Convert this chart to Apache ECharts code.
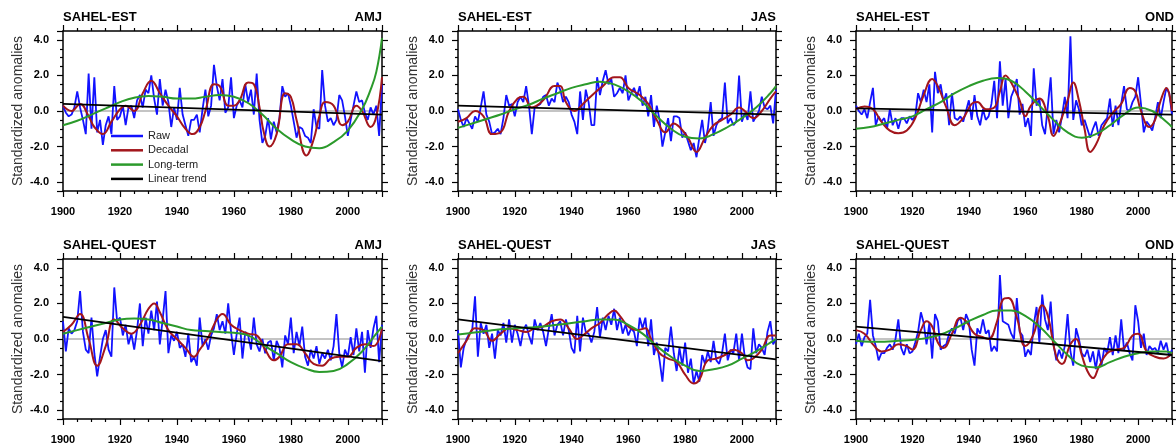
<!DOCTYPE html>
<html>
<head>
<meta charset="utf-8">
<script src="https://cdn.jsdelivr.net/npm/echarts@6/dist/echarts.min.js"></script>
<style>html,body{margin:0;padding:0;background:#fff;}#c{width:1176px;height:444px;}</style>
</head>
<body>
<div id="c"></div>
<script>
// ---------- DATA ----------
const firstYear = 1900, lastYear = 2012;
const seriesNames = ['Raw', 'Decadal', 'Long-term', 'Linear trend'];
const yTicks = [-4, -2, 0, 2, 4];
const zeroLine = [[1900, 0], [2012, 0]];

// SAHEL-EST AMJ
const rawEstAMJ = [
 0.3,-0.1,-0.3,-0.2,0.2,1.1,0.2,-0.5,-1.3,2.1,
 -1.0,1.9,-1.2,-0.5,-1.9,-0.8,-0.3,-1.3,1.4,-0.5,
 -0.3,0.3,-0.8,0.2,0.3,-0.4,0.6,0.9,0.2,1.2,
 1.0,2.0,0.7,-0.2,1.8,0.3,1.2,0.5,-0.9,0.2,
 -0.5,1.3,-0.2,-0.8,-1.4,-0.5,-0.5,-0.2,-1.2,0.1,
 1.2,-0.3,0.3,2.6,1.4,0.6,1.8,-0.1,0.2,1.9,
 -0.4,0.3,0.6,0.2,1.5,0.5,1.2,-0.2,2.1,-0.5,
 -1.8,-1.4,-0.4,-1.6,-0.6,-1.2,-0.4,1.4,0.8,1.0,
 0.3,-0.6,-1.5,-0.9,-1.0,-1.4,-1.5,-1.8,0.1,-0.9,
 -1.0,2.3,0.3,-0.6,-0.4,-0.8,-0.5,0.9,0.6,-0.3,
 -1.4,-0.5,0.3,1.1,0.5,0.6,-0.1,-0.5,0.2,-0.2,
 0.3,-1.4,1.5];
const decEstAMJ = [[1900,0.3],[1903,0.0],[1906,0.4],[1909,-0.3],[1911,-0.9],[1914,-1.3],[1917,-0.6],[1920,0.1],[1922,0.3],[1925,0.0],[1928,1.0],[1931,1.7],[1934,1.0],[1937,0.3],[1940,-0.3],[1943,-1.0],[1945.5,-1.3],[1948,-0.9],[1950,0.0],[1953,1.5],[1955,1.4],[1958,0.3],[1960,0.3],[1962,0.6],[1965,1.6],[1967,1.5],[1969,0.2],[1970.5,-1.2],[1972.5,-2.0],[1975,-1.3],[1978,1.0],[1980,0.8],[1982,-0.5],[1985.5,-2.5],[1988,-1.6],[1990,-0.3],[1992,0.5],[1995,0.3],[1998,-0.8],[2000,-0.6],[2003,0.3],[2005,0.0],[2008,-0.9],[2010,-0.3],[2012,1.9]];
const ltEstAMJ = [[1900,-0.8],[1905,-0.55],[1910,-0.2],[1915,0.15],[1920,0.5],[1925,0.75],[1930,0.85],[1935,0.8],[1940,0.7],[1945,0.7],[1950,0.8],[1955,0.9],[1960,0.8],[1965,0.45],[1970,-0.2],[1975,-1.0],[1980,-1.6],[1985,-2.0],[1990,-2.1],[1995,-1.75],[2000,-1.1],[2005,0.1],[2008,1.2],[2010,2.2],[2012,4.1]];
const trendEstAMJ = [[1900,0.4],[2012,-0.2]];

// SAHEL-EST JAS
const rawEstJAS = [
 0.1,-0.5,-0.9,-0.4,-0.7,-1.0,-0.3,-0.6,0.2,1.1,
 -0.2,-0.6,-1.3,-1.2,-1.0,-1.3,-0.4,0.9,0.3,0.4,
 -0.3,0.5,0.8,0.5,1.4,0.3,-1.3,0.2,0.3,0.4,
 0.8,0.9,0.3,0.7,0.5,1.6,1.2,0.5,0.8,0.5,
 -0.2,-0.6,-1.3,1.1,-0.5,1.2,0.5,-0.8,-0.8,1.9,
 0.9,1.7,2.3,1.5,1.8,0.8,1.0,1.3,1.0,2.0,
 0.6,1.0,1.3,0.8,1.4,0.3,0.8,-0.3,0.9,-0.9,
 0.3,-0.5,-2.0,-1.2,-0.4,-1.7,-0.3,-0.3,-0.4,-1.5,
 -1.2,-1.7,-2.2,-1.8,-2.6,-1.5,-0.5,-1.8,-1.0,0.5,
 -1.4,-0.8,-0.5,-0.4,1.6,-0.7,-0.4,-0.8,-0.6,2.0,
 -0.6,-0.1,-0.5,1.1,-0.6,-0.3,0.0,0.8,0.2,0.1,
 0.3,-0.7,1.2];
const decEstJAS = [[1900,-0.6],[1903,-0.4],[1906,0.0],[1909,-0.3],[1912,-1.3],[1915,-1.2],[1918,0.0],[1921,0.7],[1923,0.8],[1926,0.2],[1930,0.6],[1934,1.4],[1936,1.4],[1938,0.5],[1941,0.0],[1944,0.4],[1948,1.0],[1951,1.4],[1955,1.9],[1957,1.9],[1960,1.3],[1964,0.9],[1967,0.4],[1970,-0.5],[1973,-1.2],[1976,-0.7],[1978,-0.9],[1981,-1.5],[1984,-2.3],[1987,-1.5],[1990,-0.8],[1993,-0.5],[1996,-0.2],[1999,0.2],[2001,0.0],[2004,-0.4],[2007,0.0],[2010,0.7],[2012,1.1]];
const ltEstJAS = [[1900,-0.95],[1905,-0.7],[1910,-0.45],[1915,-0.2],[1920,0.1],[1925,0.35],[1930,0.7],[1935,1.0],[1940,1.3],[1945,1.5],[1950,1.65],[1955,1.5],[1960,1.1],[1965,0.5],[1970,-0.3],[1975,-1.0],[1980,-1.45],[1985,-1.55],[1990,-1.3],[1995,-0.9],[2000,-0.4],[2005,0.2],[2010,1.0],[2012,1.4]];
const trendEstJAS = [[1900,0.3],[2012,-0.2]];

// SAHEL-EST OND
const rawEstOND = [
 0.3,0.0,-0.2,0.1,-0.4,0.5,1.3,-0.8,-0.3,-0.6,
 -0.4,-1.0,0.1,-0.8,-0.4,-1.0,-0.4,-0.4,-0.7,-0.3,
 -0.5,-0.3,1.0,0.5,1.2,0.5,1.5,-1.2,2.2,1.0,
 1.5,0.5,1.0,-0.8,1.0,-0.4,-0.5,-0.3,-0.6,0.0,
 0.6,-0.5,0.9,-0.3,-0.8,0.1,-0.5,-0.3,0.4,1.7,
 -0.4,2.8,0.3,1.8,-0.4,0.8,1.2,1.8,-0.2,0.4,
 -0.9,-0.4,-1.4,2.4,0.3,0.7,-0.8,-1.3,0.3,1.9,
 -1.3,-0.5,-1.2,-0.3,0.8,-0.4,4.2,-0.5,0.6,0.1,
 -0.8,-0.5,-1.0,-1.5,-1.0,-0.6,-1.4,-0.8,-0.6,-0.4,
 0.7,-0.9,0.3,-0.8,0.4,1.4,0.1,0.0,0.5,0.8,
 1.9,0.4,-1.2,-0.6,-0.8,-1.1,-0.4,0.5,-0.4,0.5,
 1.3,1.0,-0.2];
const decEstOND = [[1900,0.1],[1903,0.25],[1906,0.1],[1909,-0.6],[1912,-1.1],[1915,-1.25],[1918,-1.1],[1921,-0.4],[1924,0.9],[1927,1.8],[1929,1.4],[1932,0.2],[1935,-0.8],[1938,-0.4],[1941,0.4],[1943,0.5],[1946,0.1],[1949,0.2],[1951,1.1],[1953,2.0],[1955,1.6],[1958,0.6],[1960,-0.3],[1962,0.3],[1965,0.7],[1968,-0.3],[1970,-1.4],[1972,-0.8],[1975,0.6],[1977,1.6],[1979,0.6],[1981,-1.0],[1983,-2.3],[1985,-1.9],[1988,-0.8],[1991,-0.1],[1994,0.4],[1997,1.3],[1999,1.1],[2001,0.0],[2004,-0.9],[2006,-0.5],[2008,0.6],[2010,1.3],[2012,0.0]];
const ltEstOND = [[1900,-1.0],[1905,-0.9],[1910,-0.7],[1915,-0.5],[1920,-0.3],[1925,0.1],[1930,0.5],[1935,1.0],[1940,1.4],[1945,1.7],[1950,1.85],[1955,1.7],[1960,1.1],[1965,0.3],[1970,-0.5],[1975,-1.2],[1980,-1.5],[1985,-1.3],[1990,-0.8],[1995,-0.2],[2000,0.2],[2005,0.0],[2010,-0.6],[2012,-0.9]];
const trendEstOND = [[1900,0.15],[2012,-0.2]];

// SAHEL-QUEST AMJ
const rawQuestAMJ = [
 1.0,-0.7,0.6,0.3,0.5,1.0,2.7,0.4,-0.6,-0.8,
 1.2,-0.8,-2.1,-1.0,0.0,0.5,-0.6,-1.0,2.9,1.0,
 1.2,0.2,0.8,-0.3,0.3,-0.6,0.5,2.0,-0.4,1.2,
 0.3,1.6,0.5,2.1,-0.3,1.1,2.7,-0.8,0.2,-0.1,
 0.4,-0.5,-0.3,-1.0,0.3,-1.3,-1.0,-1.5,1.2,-0.4,
 0.0,-0.6,0.2,0.6,1.4,0.5,1.0,0.3,2.0,0.4,
 -0.9,0.3,1.2,-1.1,0.4,0.2,-0.6,1.2,-0.3,-0.7,
 0.0,-0.8,-0.2,-0.1,-1.2,-0.1,-0.5,-1.6,0.2,-0.3,
 1.2,-0.8,0.4,-0.4,0.7,-1.0,-1.5,-0.6,-1.1,-0.4,
 -1.4,-0.8,-1.1,-0.6,-1.2,-0.4,1.4,-0.8,-1.6,-0.6,
 -1.0,0.1,-0.9,0.6,-0.7,0.4,-1.9,0.5,-0.5,0.6,
 1.3,-1.3,0.8];
const decQuestAMJ = [[1900,0.4],[1903,0.8],[1906,1.4],[1909,0.0],[1912,-1.5],[1915,-0.4],[1918,1.1],[1921,0.6],[1924,0.3],[1927,0.8],[1930,1.7],[1932,2.0],[1934,1.5],[1937,0.5],[1940,0.0],[1943,-0.5],[1946,-1.0],[1948,-0.6],[1951,0.1],[1954,1.1],[1956,1.4],[1959,0.8],[1962,0.5],[1965,0.3],[1968,0.2],[1971,-0.6],[1974,-1.2],[1976,-1.0],[1979,-0.3],[1982,-0.3],[1985,-0.8],[1988,-1.4],[1991,-1.5],[1994,-1.1],[1997,-1.0],[2000,-1.0],[2003,-0.5],[2006,-0.3],[2009,-0.4],[2012,0.6]];
const ltQuestAMJ = [[1900,0.3],[1905,0.5],[1910,0.7],[1915,0.9],[1920,1.1],[1925,1.15],[1930,1.1],[1935,0.9],[1940,0.7],[1945,0.5],[1950,0.45],[1955,0.4],[1960,0.35],[1965,0.2],[1970,-0.3],[1975,-0.8],[1980,-1.3],[1985,-1.65],[1990,-1.85],[1995,-1.8],[2000,-1.4],[2005,-0.7],[2010,0.3],[2012,0.7]];
const trendQuestAMJ = [[1900,1.25],[2012,-1.25]];

// SAHEL-QUEST JAS
const rawQuestJAS = [
 0.5,-1.6,-0.5,0.0,0.3,0.5,2.4,-1.0,0.9,0.3,
 0.8,-0.5,0.3,-1.1,0.5,0.2,0.9,-0.2,1.1,-0.2,
 0.8,0.3,-0.4,0.5,0.8,0.2,-0.3,1.1,0.5,0.9,
 0.4,-0.4,0.6,1.4,0.2,0.8,1.0,0.2,1.1,0.5,
 -0.5,-0.8,1.3,-0.7,1.2,0.4,0.3,-0.2,0.4,1.8,
 0.1,1.2,0.5,1.3,0.8,1.7,0.5,1.2,0.3,0.8,
 0.2,0.6,0.4,-0.4,1.2,0.6,1.2,-0.4,1.1,-0.9,
 -0.2,-1.2,-2.4,-0.5,-0.7,0.7,-0.8,-1.8,-0.5,-1.5,
 -0.2,-1.9,-1.1,-2.5,-1.8,-2.4,-0.9,-1.4,-0.7,-1.3,
 -0.1,-1.2,-1.4,-0.8,0.3,-1.2,-0.6,-0.8,0.3,-1.2,
 0.3,-1.0,-1.6,-1.7,0.6,-0.8,-0.3,-0.5,-0.9,0.4,
 1.0,-0.3,0.0];
const decQuestJAS = [[1900,-0.8],[1903,-0.1],[1906,0.6],[1909,0.5],[1912,-0.1],[1915,0.3],[1918,0.6],[1921,0.5],[1924,0.4],[1927,0.6],[1930,0.7],[1933,1.0],[1936,1.1],[1939,0.6],[1942,0.0],[1944,0.2],[1947,0.6],[1950,0.9],[1953,1.4],[1955,1.6],[1957,1.3],[1960,0.7],[1963,0.5],[1966,0.6],[1968,0.0],[1971,-0.8],[1974,-1.1],[1977,-1.3],[1980,-2.0],[1983,-2.5],[1985,-2.3],[1988,-1.2],[1991,-1.1],[1994,-0.9],[1997,-0.6],[2000,-0.8],[2002,-1.2],[2004,-1.1],[2007,-0.6],[2010,0.2],[2012,0.2]];
const ltQuestJAS = [[1900,0.25],[1905,0.35],[1910,0.45],[1915,0.55],[1920,0.6],[1925,0.65],[1930,0.7],[1935,0.8],[1940,0.9],[1945,1.0],[1950,1.1],[1955,1.1],[1960,0.8],[1965,0.3],[1970,-0.4],[1975,-1.0],[1980,-1.5],[1985,-1.8],[1990,-1.7],[1995,-1.5],[2000,-1.1],[2005,-0.7],[2010,-0.2],[2012,0.0]];
const trendQuestJAS = [[1900,1.1],[2012,-1.15]];

// SAHEL-QUEST OND
const rawQuestOND = [
 -0.3,0.3,-0.4,0.1,0.3,2.2,0.2,-0.4,-1.2,-0.8,
 -0.8,-0.5,-0.3,-0.6,0.0,1.1,-0.5,-0.9,-0.3,-0.8,
 -0.7,-0.2,0.4,1.5,0.9,-0.3,0.9,-1.1,1.4,1.0,
 -0.6,-0.4,-0.3,0.3,0.6,0.3,1.0,1.2,0.5,1.4,
 1.0,-0.6,-1.5,0.6,0.3,1.1,0.3,0.5,-0.7,-0.4,
 -0.7,3.6,1.0,0.9,0.8,0.3,0.0,2.3,0.4,0.2,
 -1.0,-0.6,-0.9,0.8,1.8,-0.2,2.5,1.1,0.5,2.1,
 -0.3,-1.2,-0.6,-1.1,-0.4,1.4,-0.7,-1.5,0.6,0.0,
 -0.8,-1.0,-0.6,-1.3,-0.7,-1.7,-0.6,-1.5,-0.5,-0.8,
 0.1,-0.9,0.2,-0.8,1.1,-0.6,-0.2,-0.8,-1.2,1.9,
 1.0,-0.5,0.3,-0.9,-0.4,-0.6,-0.5,-0.8,-0.1,-0.6,
 -0.2,-1.0,-0.6];
const decQuestOND = [[1900,0.5],[1903,0.3],[1906,-0.3],[1909,-0.7],[1912,-0.6],[1915,-0.3],[1918,-0.4],[1920,-0.6],[1923,0.5],[1925,1.0],[1927,0.7],[1929,-0.2],[1931,-0.5],[1934,0.3],[1937,1.2],[1939,1.0],[1942,0.3],[1945,0.1],[1947,0.0],[1950,1.0],[1952,2.2],[1954,2.3],[1957,1.2],[1960,-0.4],[1963,0.3],[1966,1.9],[1968,1.3],[1971,-1.0],[1973,-1.4],[1976,-0.3],[1978,0.0],[1980,-0.9],[1982,-1.8],[1984,-2.2],[1986,-1.6],[1989,-0.8],[1992,-0.6],[1995,-0.5],[1998,0.2],[2000,0.3],[2003,-0.7],[2006,-1.0],[2009,-1.1],[2012,-0.8]];
const ltQuestOND = [[1900,-0.1],[1905,-0.15],[1910,-0.15],[1915,-0.1],[1920,-0.05],[1925,0.05],[1930,0.25],[1935,0.6],[1940,1.0],[1945,1.35],[1950,1.6],[1955,1.6],[1960,1.3],[1965,0.7],[1970,-0.1],[1975,-0.9],[1980,-1.5],[1985,-1.6],[1990,-1.3],[1995,-1.0],[2000,-0.8],[2005,-0.7],[2010,-0.7],[2012,-0.8]];
const trendQuestOND = [[1900,0.7],[2012,-0.9]];

// ---------- LAYOUT ----------
const W = 1176;
const panels = [
 {region:'SAHEL-EST',   season:'AMJ', raw:rawEstAMJ,   dec:decEstAMJ,   lt:ltEstAMJ,   tr:trendEstAMJ,   left:63,  top:31,  width:319},
 {region:'SAHEL-EST',   season:'JAS', raw:rawEstJAS,   dec:decEstJAS,   lt:ltEstJAS,   tr:trendEstJAS,   left:458, top:31,  width:318},
 {region:'SAHEL-EST',   season:'OND', raw:rawEstOND,   dec:decEstOND,   lt:ltEstOND,   tr:trendEstOND,   left:856, top:31,  width:316},
 {region:'SAHEL-QUEST', season:'AMJ', raw:rawQuestAMJ, dec:decQuestAMJ, lt:ltQuestAMJ, tr:trendQuestAMJ, left:63,  top:259, width:319},
 {region:'SAHEL-QUEST', season:'JAS', raw:rawQuestJAS, dec:decQuestJAS, lt:ltQuestJAS, tr:trendQuestJAS, left:458, top:259, width:318},
 {region:'SAHEL-QUEST', season:'OND', raw:rawQuestOND, dec:decQuestOND, lt:ltQuestOND, tr:trendQuestOND, left:856, top:259, width:316}
];
const H = 160;
const FONT = '"Liberation Sans", Arial, Helvetica, sans-serif';
const colors = {raw:'#1212ff', dec:'#a3161c', lt:'#2b9a2b', tr:'#000000', zero:'#8a8a8a'};

const years = [];
for (let y = firstYear; y <= lastYear; y++) years.push(y);

const grid = [], xAxis = [], yAxis = [], series = [], title = [];
const tickStyle = {color:'#000', width:1.2};

panels.forEach((p, i) => {
  grid.push({left:p.left, top:p.top, width:p.width, height:H, containLabel:false, outerBoundsMode:'none'});
  const xBase = {
    type:'value', gridIndex:i, min:firstYear, max:lastYear,
    splitLine:{show:false},
    axisLine:{show:true, onZero:false, lineStyle:{color:'#000', width:1.5}},
    axisTick:{show:true, inside:false, length:6, lineStyle:tickStyle},
    minorTick:{show:true, splitNumber:4, length:3, lineStyle:tickStyle},
    minorSplitLine:{show:false}
  };
  xAxis.push(Object.assign({}, xBase, {
    position:'bottom',
    axisLabel:{show:true, margin:15, fontSize:11, fontWeight:'bold', color:'#000', fontFamily:FONT,
      showMaxLabel:false, showMinLabel:true, formatter:v => String(v)}
  }));
  xAxis.push(Object.assign({}, xBase, {position:'top', axisLabel:{show:false}}));
  const yBase = {
    type:'value', gridIndex:i, min:-4.5, max:4.5,
    splitLine:{show:false},
    axisLine:{show:true, onZero:false, lineStyle:{color:'#000', width:1.5}},
    axisTick:{show:true, inside:false, length:6, lineStyle:tickStyle},
    minorTick:{show:true, splitNumber:4, length:3, lineStyle:tickStyle},
    minorSplitLine:{show:false}
  };
  yAxis.push(Object.assign({}, yBase, {
    position:'left',
    name:'Standardized anomalies', nameLocation:'middle', nameGap:38,
    nameTextStyle:{fontSize:14, color:'#333', fontFamily:FONT},
    axisLabel:{show:true, margin:14, fontSize:11, fontWeight:'bold', color:'#000', fontFamily:FONT,
      showMinLabel:false, showMaxLabel:false,
      formatter:v => (yTicks.indexOf(v) >= 0 ? v.toFixed(1) : '')}
  }));
  yAxis.push(Object.assign({}, yBase, {position:'right', axisLabel:{show:false}}));

  const xi = 2 * i, yi = 2 * i;
  const common = {type:'line', xAxisIndex:xi, yAxisIndex:yi, symbol:'none', showSymbol:false, animation:false, silent:true};
  series.push(Object.assign({}, common, {name:'zero', data:zeroLine, z:1, lineStyle:{color:colors.zero, width:1.2}}));
  series.push(Object.assign({}, common, {name:'Raw', z:2, data:p.raw.map((v, k) => [years[k], v]),
    lineStyle:{color:colors.raw, width:1.8}, itemStyle:{color:colors.raw}}));
  series.push(Object.assign({}, common, {name:'Decadal', z:3, smooth:0.45, data:p.dec,
    lineStyle:{color:colors.dec, width:2}, itemStyle:{color:colors.dec}}));
  series.push(Object.assign({}, common, {name:'Long-term', z:4, smooth:0.45, data:p.lt,
    lineStyle:{color:colors.lt, width:2}, itemStyle:{color:colors.lt}}));
  series.push(Object.assign({}, common, {name:'Linear trend', z:5, data:p.tr,
    lineStyle:{color:colors.tr, width:1.8}, itemStyle:{color:colors.tr}}));

  title.push({text:p.region, left:p.left, top:p.top - 20, padding:0,
    textStyle:{fontSize:13, fontWeight:'bold', color:'#000', fontFamily:FONT}});
  title.push({text:p.season, right:W - (p.left + p.width) - (i % 3 === 2 ? 2 : 0), top:p.top - 20, padding:0,
    textStyle:{fontSize:13, fontWeight:'bold', color:'#000', fontFamily:FONT}});
});

const chart = echarts.init(document.getElementById('c'), null, {renderer:'canvas'});
chart.setOption({
  backgroundColor:'#fff',
  animation:false,
  textStyle:{fontFamily:FONT},
  title:title,
  legend:{
    data:seriesNames.map(n => ({name:n, icon:'rect'})),
    orient:'vertical', left:111, top:130.5, padding:0,
    itemWidth:32, itemHeight:2.5, itemGap:3.3, selectedMode:false,
    textStyle:{fontSize:11, color:'#222', fontFamily:FONT}
  },
  grid:grid, xAxis:xAxis, yAxis:yAxis, series:series
});
</script>
</body>
</html>
